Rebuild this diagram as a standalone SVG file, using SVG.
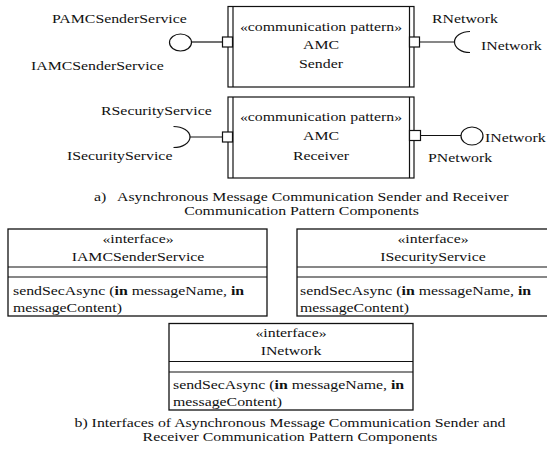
<svg xmlns="http://www.w3.org/2000/svg" width="547" height="456" viewBox="0 0 547 456">
  <style>
    text { font-family: "Liberation Serif", "Times New Roman", serif; font-size: 13.2px; fill: #111; }
    .mid { text-anchor: middle; }
    .b { font-weight: bold; }
    .box { fill: #fff; stroke: #111; stroke-width: 1.2; }
    .ln { stroke: #111; stroke-width: 1.2; fill: none; }
    .port { fill: #fff; stroke: #111; stroke-width: 1.2; }
    .iface { fill: #fff; stroke: #111; stroke-width: 1.3; }
  </style>
  <rect width="547" height="456" fill="#fff"/>

  <!-- connectors: ball / socket interfaces attached to ports -->
  <g id="connectors">
    <line class="ln" x1="191.5" y1="42" x2="222.5" y2="42"/>
    <ellipse class="ln" cx="180.5" cy="42.5" rx="11" ry="8.5"/>
    <line class="ln" x1="419.5" y1="42" x2="454.5" y2="42"/>
    <path class="ln" d="M470,31.5 A15.5,10.5 0 0 0 470,52.5"/>
    <line class="ln" x1="190" y1="137" x2="222.5" y2="137"/>
    <path class="ln" d="M173.5,126.5 A16.5,10.5 0 0 1 173.5,147.5"/>
    <line class="ln" x1="420.5" y1="135.5" x2="461" y2="135.5"/>
    <ellipse class="ln" cx="472" cy="136" rx="11" ry="9"/>
  </g>

  <!-- AMC Sender component (text is set in a 1.2x wide face) -->
  <g id="amc-sender">
    <rect class="box" x="228" y="6.5" width="186" height="80.5"/>
    <line class="ln" x1="233" y1="6.5" x2="233" y2="87"/>
    <line class="ln" x1="409.5" y1="6.5" x2="409.5" y2="87"/>
    <rect class="port" x="222.5" y="37" width="10" height="10"/>
    <rect class="port" x="409.5" y="37" width="10" height="10"/>
    <g transform="scale(1.2,1)">
      <text class="mid" x="267.5" y="31">«communication pattern»</text>
      <text class="mid" x="267.5" y="49">AMC</text>
      <text class="mid" x="267.5" y="68">Sender</text>
      <text x="43.33" y="23">PAMCSenderService</text>
      <text x="25.83" y="70">IAMCSenderService</text>
      <text x="360" y="23">RNetwork</text>
      <text x="400.83" y="50">INetwork</text>
    </g>
  </g>

  <!-- AMC Receiver component -->
  <g id="amc-receiver">
    <rect class="box" x="228" y="97" width="186" height="81"/>
    <line class="ln" x1="233" y1="97" x2="233" y2="178"/>
    <line class="ln" x1="409.5" y1="97" x2="409.5" y2="178"/>
    <rect class="port" x="222.5" y="132" width="10" height="10"/>
    <rect class="port" x="409.5" y="130.5" width="11" height="10"/>
    <g transform="scale(1.2,1)">
      <text class="mid" x="267.5" y="121">«communication pattern»</text>
      <text class="mid" x="267.5" y="140">AMC</text>
      <text class="mid" x="267.5" y="160">Receiver</text>
      <text x="84.17" y="115">RSecurityService</text>
      <text x="55.83" y="160">ISecurityService</text>
      <text x="404.17" y="142">INetwork</text>
      <text x="356.67" y="162">PNetwork</text>
    </g>
  </g>

  <g id="caption-a" transform="scale(1.2,1)">
    <text x="78.33" y="201">a)</text>
    <text x="97.5" y="201">Asynchronous Message Communication Sender and Receiver</text>
    <text class="mid" x="251.25" y="215">Communication Pattern Components</text>
  </g>

  <!-- interface IAMCSenderService -->
  <g id="iamc-sender-service">
    <rect class="iface" x="8" y="229" width="259" height="87"/>
    <line class="ln" x1="8" y1="267" x2="267" y2="267"/>
    <line class="ln" x1="8" y1="277" x2="267" y2="277"/>
    <g transform="scale(1.2,1)">
      <text class="mid" x="115" y="243">«interface»</text>
      <text class="mid" x="115" y="261">IAMCSenderService</text>
      <text x="10.83" y="295">sendSecAsync (<tspan class="b">in</tspan> messageName, <tspan class="b">in</tspan></text>
      <text x="10.83" y="312">messageContent)</text>
    </g>
  </g>

  <!-- interface ISecurityService -->
  <g id="isecurity-service">
    <rect class="iface" x="297" y="229" width="270" height="87"/>
    <line class="ln" x1="297" y1="267" x2="567" y2="267"/>
    <line class="ln" x1="297" y1="277" x2="567" y2="277"/>
    <g transform="scale(1.2,1)">
      <text class="mid" x="360.83" y="243">«interface»</text>
      <text class="mid" x="360.83" y="261">ISecurityService</text>
      <text x="250" y="295">sendSecAsync (<tspan class="b">in</tspan> messageName, <tspan class="b">in</tspan></text>
      <text x="250" y="312">messageContent)</text>
    </g>
  </g>

  <!-- interface INetwork -->
  <g id="inetwork">
    <rect class="iface" x="169" y="323.5" width="244" height="86.5"/>
    <line class="ln" x1="169" y1="361.5" x2="413" y2="361.5"/>
    <line class="ln" x1="169" y1="372" x2="413" y2="372"/>
    <g transform="scale(1.2,1)">
      <text class="mid" x="242.5" y="337">«interface»</text>
      <text class="mid" x="242.5" y="355">INetwork</text>
      <text x="144.17" y="389">sendSecAsync (<tspan class="b">in</tspan> messageName, <tspan class="b">in</tspan></text>
      <text x="144.17" y="406">messageContent)</text>
    </g>
  </g>

  <g id="caption-b" transform="scale(1.2,1)">
    <text class="mid" x="241.67" y="427">b) Interfaces of Asynchronous Message Communication Sender and</text>
    <text class="mid" x="241.67" y="441">Receiver Communication Pattern Components</text>
  </g>
</svg>
